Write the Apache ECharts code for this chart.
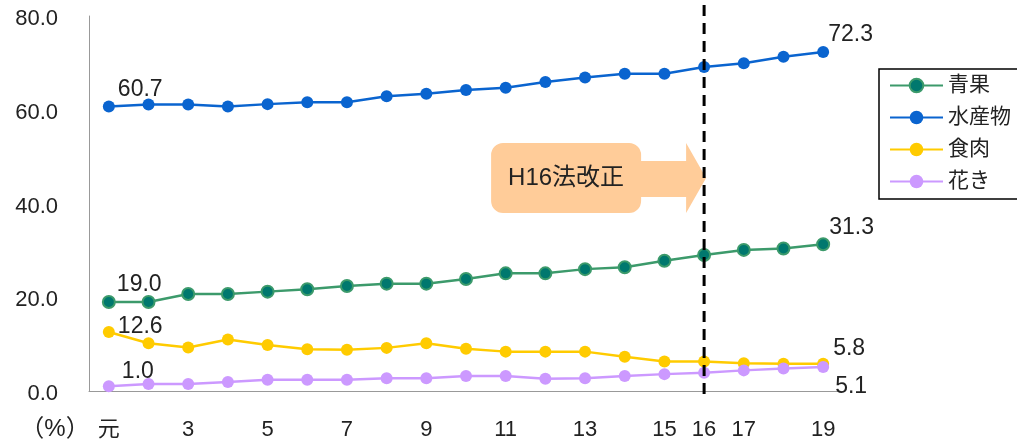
<!DOCTYPE html>
<html>
<head>
<meta charset="utf-8">
<script src="https://cdn.jsdelivr.net/npm/echarts@6/dist/echarts.min.js"></script>
<style>
  html, body { margin: 0; padding: 0; background: #fff; }
  #chart { width: 1017px; height: 443px; }
</style>
</head>
<body>
<div id="chart"></div>
<script>
// Fiscal years (平成元年〜19年)
const categories = ['元','2','3','4','5','6','7','8','9','10','11','12','13','14','15','16','17','18','19'];
// Year labels printed under the axis
const shownTicks = ['元','3','5','7','9','11','13','15','16','17','19'];
const yTicks = [0, 20, 40, 60, 80];

// Shares by commodity (%)
const seika    = [19.0, 19.0, 20.7, 20.7, 21.2, 21.7, 22.4, 22.9, 22.9, 23.9, 25.1, 25.1, 26.0, 26.4, 27.8, 29.0, 30.1, 30.4, 31.3];
const suisanbutsu = [60.7, 61.1, 61.1, 60.7, 61.2, 61.6, 61.6, 62.9, 63.4, 64.2, 64.7, 65.9, 66.9, 67.7, 67.7, 69.1, 69.9, 71.3, 72.3];
const shokuniku = [12.6, 10.2, 9.3, 11.0, 9.8, 8.9, 8.8, 9.2, 10.2, 9.0, 8.4, 8.4, 8.4, 7.3, 6.3, 6.3, 5.9, 5.8, 5.8];
const hanaki   = [1.0, 1.5, 1.5, 1.9, 2.4, 2.4, 2.4, 2.7, 2.7, 3.2, 3.2, 2.6, 2.7, 3.2, 3.6, 3.9, 4.4, 4.8, 5.1];

const FONT = "'Liberation Sans', 'Noto Sans CJK JP', sans-serif";
const TEXT = '#222';

// Put value labels on the first and last point of a series
function withEndLabels(values, firstPos, lastPos) {
  return values.map((v, i) => {
    if (i === 0 || i === values.length - 1) {
      return {
        value: v,
        label: {
          show: true,
          position: i === 0 ? firstPos : lastPos,
          align: 'left',
          verticalAlign: 'middle',
          fontSize: 23,
          fontFamily: FONT,
          color: TEXT,
          formatter: (p) => p.value.toFixed(1)
        }
      };
    }
    return v;
  });
}

function lineSeries(name, values, lineColor, fillColor, firstPos, lastPos, border) {
  return {
    name: name,
    type: 'line',
    data: withEndLabels(values, firstPos, lastPos),
    symbol: 'circle',
    symbolSize: 12,
    lineStyle: { color: lineColor, width: 2.5 },
    itemStyle: {
      color: fillColor,
      borderColor: border ? lineColor : fillColor,
      borderWidth: border ? 2 : 0
    },
    emphasis: { disabled: true },
    animation: false
  };
}

const chart = echarts.init(document.getElementById('chart'));

chart.setOption({
  backgroundColor: '#fff',
  animation: false,
  grid: { left: 89, right: 174, top: 16, bottom: 52 },
  legend: {
    data: ['青果', '水産物', '食肉', '花き'],
    orient: 'vertical',
    left: 879,
    top: 69,
    itemWidth: 53,
    itemHeight: 17,
    itemGap: 11,
    padding: [6, 12, 7, 10],
    borderColor: '#000',
    borderWidth: 1.5,
    textStyle: { fontSize: 21, fontFamily: FONT, color: TEXT }
  },
  xAxis: {
    type: 'category',
    data: categories,
    boundaryGap: true,
    axisLine: { show: true, lineStyle: { color: '#999', width: 1 } },
    axisTick: { show: false },
    axisLabel: {
      interval: (index, value) => shownTicks.includes(value),
      margin: 28,
      fontSize: 22,
      fontFamily: FONT,
      color: TEXT
    },
    splitLine: { show: false }
  },
  yAxis: {
    type: 'value',
    min: yTicks[0],
    max: yTicks[yTicks.length - 1],
    interval: yTicks[1] - yTicks[0],
    axisLine: { show: true, lineStyle: { color: '#999', width: 1 } },
    axisTick: { show: false },
    splitLine: { show: false },
    axisLabel: {
      margin: 31,
      fontSize: 22,
      fontFamily: FONT,
      color: TEXT,
      formatter: (v) => '{t|' + v.toFixed(1) + '}',
      rich: {
        t: { fontSize: 22, fontFamily: FONT, color: TEXT, padding: [6, 0, 0, 0] }
      }
    }
  },
  series: [
    lineSeries('青果', seika, '#3C9A6B', '#00786E', [15, -10], [13, -10], true),
    lineSeries('水産物', suisanbutsu, '#0A64CF', '#0A64CF', [15, -11], [11, -11], false),
    lineSeries('食肉', shokuniku, '#FFCB00', '#FFCB00', [15, 1], [16, -9], false),
    lineSeries('花き', hanaki, '#CC99FF', '#CC99FF', [19, -9], [18, 26], false)
  ]
});

// Law revision marker at H16: dashed vertical line plus arrow callout
const x16 = chart.convertToPixel({ xAxisIndex: 0 }, '16');
const tipX = x16 + 2;
const midY = 178;

chart.setOption({
  graphic: [
    {
      type: 'line',
      shape: { x1: x16, y1: 5, x2: x16, y2: 400 },
      style: { stroke: '#000', lineWidth: 3, lineDash: [11, 7] },
      z: 10
    },
    {
      type: 'rect',
      shape: { x: tipX - 215, y: midY - 35, width: 150, height: 70, r: 12 },
      style: { fill: '#FFCC99' },
      z: 5
    },
    {
      type: 'polygon',
      shape: {
        points: [
          [tipX - 67, midY - 17], [tipX - 20, midY - 17], [tipX - 20, midY - 35],
          [tipX, midY], [tipX - 20, midY + 35], [tipX - 20, midY + 19], [tipX - 67, midY + 19]
        ]
      },
      style: { fill: '#FFCC99' },
      z: 5
    },
    {
      type: 'text',
      x: tipX - 140,
      y: midY,
      style: {
        text: 'H16法改正',
        fontSize: 24,
        fontFamily: FONT,
        fill: TEXT,
        align: 'center',
        verticalAlign: 'middle'
      },
      z: 6
    },
    {
      type: 'text',
      x: 55,
      y: 429,
      style: {
        text: '（%）',
        fontSize: 24,
        fontFamily: FONT,
        fill: TEXT,
        align: 'center',
        verticalAlign: 'middle'
      }
    }
  ]
});
</script>
</body>
</html>
